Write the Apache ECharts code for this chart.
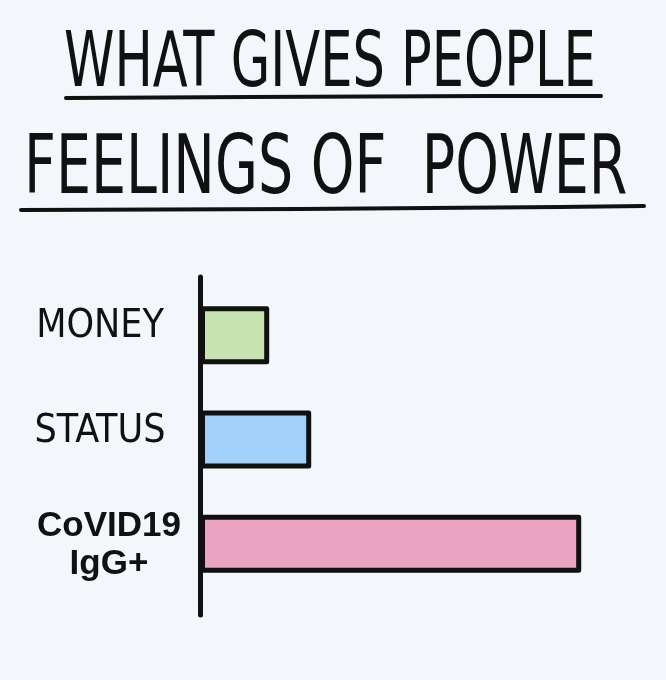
<!DOCTYPE html>
<html>
<head>
<meta charset="utf-8">
<script src="https://cdn.jsdelivr.net/npm/echarts@6/dist/echarts.min.js"></script>
<style>
html,body{margin:0;padding:0;background:#f3f7fb;}
#chart{width:666px;height:680px;}
</style>
</head>
<body>
<div id="chart"></div>
<script>
var titleLines = ['WHAT GIVES PEOPLE', 'FEELINGS OF  POWER'];
var categories = ['MONEY', 'STATUS', 'CoVID19\nIgG+'];
var values = [17.3, 27.8, 95.3];
var barColors = ['#c6e4b0', '#a1d0f8', '#eaa3c0'];

var ink = '#111111';
var handFont = '"Liberation Sans Narrow", "DejaVu Sans Condensed", sans-serif';

var chart = echarts.init(document.getElementById('chart'), null, {renderer: 'canvas'});

var option = {
  backgroundColor: '#f3f7fb',
  animation: false,
  grid: [
    {left: 200, right: 66, top: 283, bottom: 84, containLabel: false},
    {left: 200, right: 66, top: 277, bottom: 65, containLabel: false}
  ],
  xAxis: [
    {type: 'value', gridIndex: 0, min: 0, max: 100, show: false},
    {type: 'value', gridIndex: 1, min: 0, max: 100, show: false}
  ],
  yAxis: [
    {
      type: 'category', gridIndex: 0, inverse: true, data: categories,
      axisLine: {show: false}, axisTick: {show: false}, splitLine: {show: false},
      axisLabel: {
        margin: 95, align: 'center', color: ink,
        formatter: function (v) {
          if (v.indexOf('\n') >= 0) {
            var parts = v.split('\n');
            return '{b1|' + parts[0] + '}\n{b|' + parts[1] + '}';
          }
          return '{h|' + v + '}';
        },
        rich: {
          h: {fontFamily: handFont, fontSize: 39, color: ink, padding: [0, 10, 16, 0]},
          b1: {fontFamily: '"Liberation Sans", Arial, sans-serif', fontWeight: 'bold', fontSize: 35, lineHeight: 42, color: ink, padding: [8, 0, 0, 8]},
          b: {fontFamily: '"Liberation Sans", Arial, sans-serif', fontWeight: 'bold', fontSize: 35, lineHeight: 42, color: ink, padding: [0, 0, 0, 8]}
        }
      }
    },
    {
      type: 'value', gridIndex: 1, min: 0, max: 1,
      axisLine: {show: true, onZero: false, lineStyle: {color: ink, width: 5, cap: 'round'}},
      axisTick: {show: false}, axisLabel: {show: false}, splitLine: {show: false}
    }
  ],
  series: [{
    type: 'bar',
    xAxisIndex: 0, yAxisIndex: 0,
    data: values,
    barWidth: 58,
    itemStyle: {
      color: function (p) { return barColors[p.dataIndex]; },
      borderColor: ink, borderWidth: 5, borderJoin: 'round'
    }
  }],
  graphic: [
    {
      type: 'text', x: 64, y: 28,
      scaleX: 0.93, scaleY: 1.25,
      style: {text: titleLines[0], font: 'normal 61px ' + handFont, fill: ink}
    },
    {
      type: 'text', x: 24, y: 131,
      scaleX: 0.935, scaleY: 1.24,
      style: {text: titleLines[1], font: 'normal 66px ' + handFont, fill: ink}
    },
    {
      type: 'polyline',
      shape: {points: [[66, 98], [250, 97], [490, 96], [601, 96]]},
      style: {stroke: ink, lineWidth: 4, lineCap: 'round', fill: null}
    },
    {
      type: 'polyline',
      shape: {points: [[21, 210], [300, 209], [560, 207], [644, 206]]},
      style: {stroke: ink, lineWidth: 4, lineCap: 'round', fill: null}
    }
  ]
};
chart.setOption(option);
</script>
</body>
</html>
